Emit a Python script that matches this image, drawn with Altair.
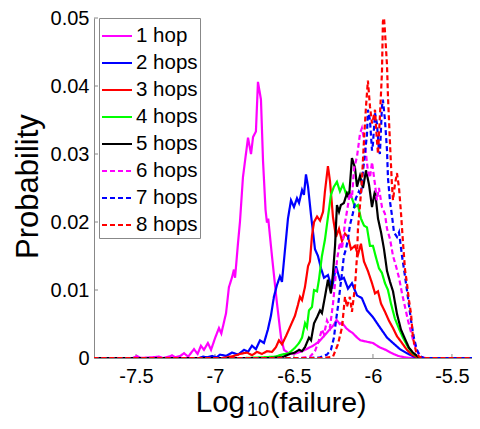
import altair as alt
import pandas as pd

FONT = "Liberation Sans"

SERIES = ["1 hop", "2 hops", "3 hops", "4 hops", "5 hops", "6 hops", "7 hops", "8 hops"]
COLORS = ["#ff00ff", "#0000ff", "#ff0000", "#00ff00", "#000000", "#ff00ff", "#0000ff", "#ff0000"]
DASHES = [[1, 0], [1, 0], [1, 0], [1, 0], [1, 0], [5, 3], [5, 3], [5, 3]]

X_TICKS = [-7.5, -7, -6.5, -6, -5.5]
Y_TICKS = [0, 0.01, 0.02, 0.03, 0.04, 0.05]

HOP1 = [(-7.77, 0), (-7.52, 0), (-7.494, 0.0003), (-7.47, 0), (-7.40, 0.0001), (-7.354, 0.0002),
        (-7.33, 0), (-7.29, 0.0002), (-7.272, 0.0004), (-7.25, 0.0001), (-7.22, 0.0003),
        (-7.196, 0.0007), (-7.17, 0.0002), (-7.133, 0.0013), (-7.11, 0.0006), (-7.089, 0.0018),
        (-7.07, 0.0012), (-7.045, 0.0022), (-7.025, 0.0012), (-7.000, 0.0029), (-6.975, 0.0044),
        (-6.96, 0.0036), (-6.93, 0.0066), (-6.912, 0.0104), (-6.893, 0.0118), (-6.880, 0.0130),
        (-6.873, 0.0118), (-6.854, 0.0170), (-6.842, 0.0200), (-6.823, 0.0266), (-6.791, 0.0324),
        (-6.772, 0.0300), (-6.759, 0.0325), (-6.741, 0.0333), (-6.728, 0.0406), (-6.709, 0.0380),
        (-6.696, 0.0290), (-6.680, 0.0218), (-6.671, 0.0199), (-6.663, 0.0205), (-6.639, 0.0149),
        (-6.608, 0.0081), (-6.582, 0.0030), (-6.563, 0.0012), (-6.54, 0.0008), (-6.50, 0.0006),
        (-6.46, 0.0009), (-6.43, 0.0012), (-6.38, 0.0018), (-6.342, 0.0024), (-6.30, 0.0035),
        (-6.278, 0.0041), (-6.25, 0.0048), (-6.23, 0.0056), (-6.21, 0.0050), (-6.196, 0.0052),
        (-6.17, 0.0044), (-6.15, 0.0040), (-6.13, 0.0037), (-6.10, 0.0030), (-6.08, 0.0026),
        (-6.04, 0.0024), (-6.00, 0.0022), (-5.96, 0.0016), (-5.92, 0.0012), (-5.88, 0.0007),
        (-5.84, 0.0003), (-5.80, 0.0001), (-5.76, 0), (-5.36, 0)]

HOP2 = [(-7.77, 0), (-7.10, 0), (-7.076, 0.0002), (-7.05, 0.0001), (-7.019, 0.0003), (-6.99, 0.0001),
        (-6.968, 0.0005), (-6.930, 0.0003), (-6.892, 0.0008), (-6.854, 0.0005), (-6.816, 0.0012),
        (-6.791, 0.0009), (-6.766, 0.0018), (-6.741, 0.0013), (-6.715, 0.0026), (-6.690, 0.0022),
        (-6.665, 0.0042), (-6.646, 0.0062), (-6.627, 0.0090), (-6.608, 0.0107), (-6.589, 0.0120),
        (-6.576, 0.0112), (-6.557, 0.0159), (-6.538, 0.0205), (-6.519, 0.0232), (-6.500, 0.0222),
        (-6.481, 0.0235), (-6.468, 0.0228), (-6.449, 0.0247), (-6.437, 0.0240), (-6.424, 0.0270),
        (-6.411, 0.0252), (-6.392, 0.0210), (-6.367, 0.0160), (-6.348, 0.0150), (-6.329, 0.0132),
        (-6.310, 0.0118), (-6.285, 0.0122), (-6.259, 0.0102), (-6.234, 0.0135), (-6.209, 0.0115),
        (-6.184, 0.0118), (-6.158, 0.0102), (-6.133, 0.0110), (-6.101, 0.0092), (-6.070, 0.0088),
        (-6.038, 0.0070), (-6.000, 0.0060), (-5.956, 0.0045), (-5.911, 0.0030), (-5.873, 0.0022),
        (-5.829, 0.0013), (-5.785, 0.0007), (-5.741, 0.0002), (-5.703, 0), (-5.36, 0)]

HOP3 = [(-7.77, 0), (-6.95, 0), (-6.924, 0.0001), (-6.88, 0.0003), (-6.842, 0.0006), (-6.797, 0.0008),
        (-6.766, 0.0004), (-6.734, 0.0009), (-6.703, 0.0006), (-6.671, 0.0010), (-6.639, 0.0009),
        (-6.614, 0.0016), (-6.595, 0.0026), (-6.576, 0.0020), (-6.551, 0.0032), (-6.532, 0.0042),
        (-6.513, 0.0052), (-6.494, 0.0062), (-6.475, 0.0078), (-6.462, 0.0090), (-6.449, 0.0085),
        (-6.430, 0.0105), (-6.411, 0.0135), (-6.399, 0.0142), (-6.386, 0.0180), (-6.373, 0.0200),
        (-6.354, 0.0208), (-6.335, 0.0202), (-6.316, 0.0215), (-6.304, 0.0245), (-6.285, 0.0282),
        (-6.272, 0.0260), (-6.253, 0.0207), (-6.234, 0.0178), (-6.215, 0.0190), (-6.196, 0.0172),
        (-6.177, 0.0183), (-6.158, 0.0178), (-6.139, 0.0160), (-6.114, 0.0165), (-6.095, 0.0152),
        (-6.076, 0.0168), (-6.057, 0.0142), (-6.032, 0.0128), (-6.006, 0.0110), (-5.987, 0.0095),
        (-5.968, 0.0098), (-5.949, 0.0080), (-5.924, 0.0068), (-5.899, 0.0055), (-5.873, 0.0044),
        (-5.848, 0.0032), (-5.816, 0.0022), (-5.785, 0.0012), (-5.753, 0.0005), (-5.722, 0.0001),
        (-5.690, 0), (-5.36, 0)]

HOP4 = [(-7.77, 0), (-6.81, 0), (-6.703, 0.0001), (-6.620, 0.0002), (-6.576, 0.0005), (-6.532, 0.0007),
        (-6.494, 0.0015), (-6.468, 0.0022), (-6.449, 0.0030), (-6.430, 0.0051), (-6.418, 0.0045),
        (-6.405, 0.0070), (-6.386, 0.0075), (-6.373, 0.0100), (-6.354, 0.0098), (-6.342, 0.0115),
        (-6.323, 0.0150), (-6.304, 0.0174), (-6.285, 0.0207), (-6.266, 0.0240), (-6.247, 0.0252),
        (-6.228, 0.0259), (-6.209, 0.0245), (-6.190, 0.0255), (-6.171, 0.0242), (-6.152, 0.0244),
        (-6.133, 0.0235), (-6.114, 0.0222), (-6.095, 0.0225), (-6.076, 0.0205), (-6.057, 0.0195),
        (-6.038, 0.0192), (-6.019, 0.0165), (-6.000, 0.0165), (-5.981, 0.0148), (-5.962, 0.0132),
        (-5.943, 0.0125), (-5.924, 0.0110), (-5.905, 0.0100), (-5.886, 0.0080), (-5.861, 0.0058),
        (-5.835, 0.0043), (-5.810, 0.0030), (-5.778, 0.0016), (-5.747, 0.0007), (-5.715, 0.0002),
        (-5.684, 0), (-5.36, 0)]

HOP5 = [(-7.77, 0), (-6.652, 0), (-6.576, 0.0001), (-6.525, 0.0006), (-6.494, 0.0008), (-6.468, 0.0012),
        (-6.449, 0.0010), (-6.430, 0.0016), (-6.405, 0.0030), (-6.392, 0.0026), (-6.373, 0.0051),
        (-6.354, 0.0060), (-6.335, 0.0070), (-6.323, 0.0066), (-6.304, 0.0090), (-6.285, 0.0115),
        (-6.266, 0.0095), (-6.253, 0.0125), (-6.240, 0.0165), (-6.228, 0.0225), (-6.215, 0.0215),
        (-6.203, 0.0225), (-6.184, 0.0228), (-6.165, 0.0242), (-6.152, 0.0235), (-6.133, 0.0294),
        (-6.114, 0.0280), (-6.101, 0.0252), (-6.082, 0.0268), (-6.063, 0.0250), (-6.044, 0.0276),
        (-6.025, 0.0255), (-6.006, 0.0222), (-5.987, 0.0246), (-5.968, 0.0205), (-5.949, 0.0185),
        (-5.930, 0.0160), (-5.911, 0.0128), (-5.892, 0.0112), (-5.873, 0.0098), (-5.848, 0.0065),
        (-5.823, 0.0042), (-5.797, 0.0028), (-5.772, 0.0015), (-5.747, 0.0008), (-5.715, 0.0002),
        (-5.684, 0), (-5.36, 0)]

HOP6 = [(-7.77, 0), (-6.462, 0), (-6.399, 0.0002), (-6.367, 0.0010), (-6.342, 0.0026), (-6.323, 0.0042),
        (-6.310, 0.0035), (-6.291, 0.0055), (-6.272, 0.0045), (-6.253, 0.0080), (-6.240, 0.0110),
        (-6.228, 0.0144), (-6.209, 0.0170), (-6.196, 0.0160), (-6.177, 0.0199), (-6.165, 0.0215),
        (-6.146, 0.0243), (-6.133, 0.0235), (-6.120, 0.0278), (-6.101, 0.0296), (-6.082, 0.0330),
        (-6.070, 0.0338), (-6.057, 0.0322), (-6.044, 0.0300), (-6.032, 0.0275), (-6.019, 0.0265),
        (-6.006, 0.0288), (-5.987, 0.0255), (-5.975, 0.0232), (-5.962, 0.0250), (-5.943, 0.0222),
        (-5.924, 0.0212), (-5.911, 0.0190), (-5.892, 0.0175), (-5.873, 0.0150), (-5.854, 0.0135),
        (-5.835, 0.0118), (-5.816, 0.0095), (-5.797, 0.0075), (-5.778, 0.0055), (-5.759, 0.0038),
        (-5.741, 0.0022), (-5.715, 0.0008), (-5.690, 0.0001), (-5.665, 0), (-5.36, 0)]

HOP7 = [(-7.77, 0), (-6.399, 0), (-6.335, 0.0001), (-6.291, 0.0005), (-6.266, 0.0012), (-6.247, 0.0030),
        (-6.234, 0.0055), (-6.222, 0.0075), (-6.209, 0.0100), (-6.196, 0.0125), (-6.184, 0.0150),
        (-6.171, 0.0160), (-6.158, 0.0175), (-6.146, 0.0195), (-6.127, 0.0213), (-6.108, 0.0235),
        (-6.089, 0.0245), (-6.076, 0.0240), (-6.063, 0.0275), (-6.051, 0.0300), (-6.038, 0.0328),
        (-6.032, 0.0365), (-6.019, 0.0350), (-6.006, 0.0305), (-6.000, 0.0315), (-5.987, 0.0360),
        (-5.975, 0.0345), (-5.962, 0.0305), (-5.956, 0.0300), (-5.943, 0.0370), (-5.937, 0.0380),
        (-5.924, 0.0350), (-5.911, 0.0305), (-5.905, 0.0265), (-5.892, 0.0230), (-5.880, 0.0210),
        (-5.867, 0.0185), (-5.848, 0.0178), (-5.835, 0.0185), (-5.816, 0.0150), (-5.797, 0.0120),
        (-5.778, 0.0088), (-5.759, 0.0055), (-5.741, 0.0030), (-5.722, 0.0012), (-5.703, 0.0003),
        (-5.677, 0), (-5.36, 0)]

HOP8 = [(-7.77, 0), (-6.304, 0), (-6.253, 0.0002), (-6.222, 0.0020), (-6.196, 0.0045), (-6.177, 0.0090),
        (-6.165, 0.0075), (-6.146, 0.0090), (-6.133, 0.0068), (-6.114, 0.0104), (-6.101, 0.0150),
        (-6.095, 0.0190), (-6.082, 0.0225), (-6.070, 0.0260), (-6.057, 0.0320), (-6.044, 0.0370),
        (-6.032, 0.0408), (-6.019, 0.0370), (-6.006, 0.0345), (-6.000, 0.0350), (-5.987, 0.0365),
        (-5.975, 0.0320), (-5.968, 0.0300), (-5.956, 0.0355), (-5.943, 0.0420), (-5.937, 0.0495),
        (-5.930, 0.0500), (-5.924, 0.0480), (-5.911, 0.0430), (-5.905, 0.0385), (-5.892, 0.0315),
        (-5.880, 0.0255), (-5.873, 0.0232), (-5.861, 0.0255), (-5.848, 0.0272), (-5.835, 0.0250),
        (-5.823, 0.0215), (-5.810, 0.0170), (-5.797, 0.0130), (-5.785, 0.0110), (-5.772, 0.0085),
        (-5.759, 0.0065), (-5.747, 0.0030), (-5.728, 0.0010), (-5.709, 0.0002), (-5.684, 0), (-5.36, 0)]

ALL = [HOP1, HOP2, HOP3, HOP4, HOP5, HOP6, HOP7, HOP8]

rows = []
for name, pts in zip(SERIES, ALL):
    for x, y in pts:
        rows.append({"series": name, "x": x, "y": y})
df = pd.DataFrame(rows)

leg = alt.Legend(
    title=None, orient="none", legendX=5, legendY=0,
    symbolType="stroke", symbolSize=900, symbolStrokeWidth=2,
    labelFont=FONT, labelFontSize=20.5, labelColor="black", labelOffset=3,
    padding=2, rowPadding=0, strokeColor="#888888", fillColor="white", labelLimit=0,
)

x_scale = alt.Scale(domain=[-7.766, -5.373], nice=False, zero=False)
y_scale = alt.Scale(domain=[0, 0.05], nice=False)

x_axis = alt.Axis(values=X_TICKS, labelExpr="'' + datum.value", ticks=False, tickSize=0,
                  grid=False, domainColor="#888888", labelFont=FONT, labelFontSize=20,
                  labelColor="black", labelPadding=8, title="")
y_axis = alt.Axis(values=Y_TICKS, labelExpr="'' + datum.value", ticks=False, tickSize=0,
                  grid=False, domainColor="#888888", labelFont=FONT, labelFontSize=20,
                  labelColor="black", labelPadding=5, title="Probability",
                  titleFont=FONT, titleFontSize=31, titleFontWeight="normal", titleColor="black",
                  titleAngle=270, titleAlign="center", titleBaseline="alphabetic",
                  titleX=-57, titleY=168)

lines = alt.Chart(df).mark_line(strokeWidth=2.2, clip=True).encode(
    x=alt.X("x:Q", scale=x_scale, axis=x_axis),
    y=alt.Y("y:Q", scale=y_scale, axis=y_axis),
    color=alt.Color("series:N", scale=alt.Scale(domain=SERIES, range=COLORS), legend=leg),
    strokeDash=alt.StrokeDash("series:N", scale=alt.Scale(domain=SERIES, range=DASHES), legend=leg),
)

xticks = alt.Chart(pd.DataFrame({"v": X_TICKS})).mark_rule(color="#888888", strokeWidth=1).encode(
    x=alt.X("v:Q", title=""), y=alt.value(340), y2=alt.value(336)
)
yticks = alt.Chart(pd.DataFrame({"v": Y_TICKS})).mark_rule(color="#888888", strokeWidth=1).encode(
    y=alt.Y("v:Q", title="Probability"), x=alt.value(0), x2=alt.value(4)
)

t_log = alt.Chart(pd.DataFrame({"t": ["Log"]})).mark_text(
    align="right", baseline="alphabetic", font=FONT, fontSize=29.5, color="black"
).encode(text="t:N", x=alt.value(151), y=alt.value(394))
t_sub = alt.Chart(pd.DataFrame({"t": ["10"]})).mark_text(
    align="left", baseline="alphabetic", font=FONT, fontSize=20, color="black"
).encode(text="t:N", x=alt.value(153), y=alt.value(398))
t_fail = alt.Chart(pd.DataFrame({"t": ["(failure)"]})).mark_text(
    align="left", baseline="alphabetic", font=FONT, fontSize=28.5, color="black"
).encode(text="t:N", x=alt.value(176), y=alt.value(394))

chart = alt.layer(xticks, yticks, lines, t_log, t_sub, t_fail).properties(
    width=378, height=340,
    padding={"left": 86, "top": 10, "right": 0, "bottom": 63},
    autosize=alt.AutoSizeParams(type="none"),
    background="white",
).configure_view(stroke=None)

chart.save("out.html", embed_options={"renderer": "svg", "actions": False})
